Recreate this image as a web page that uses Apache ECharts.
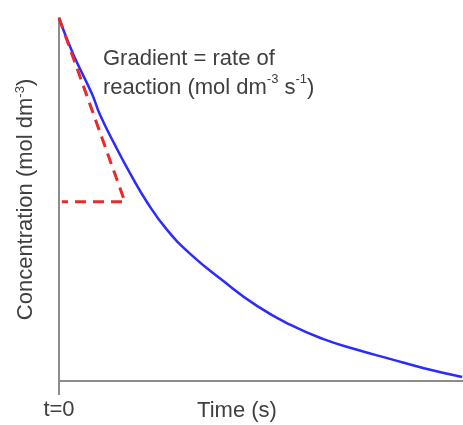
<!DOCTYPE html>
<html>
<head>
<meta charset="utf-8">
<script src="https://cdn.jsdelivr.net/npm/echarts@6/dist/echarts.min.js"></script>
<style>
  html, body { margin: 0; padding: 0; background: #fff; }
  #chart { width: 463px; height: 425px; }
</style>
</head>
<body>
<div id="chart"></div>
<script>
// concentration vs time (arbitrary units 0..10)
const timeValues = [0, 0.35, 0.82, 1.01, 1.39, 1.76, 2.2, 2.67, 3.24, 4.06, 4.9, 5.72, 6.53, 7.38, 8.19, 9.01, 9.98];
const concValues = [10, 9.01, 7.9, 7.35, 6.49, 5.72, 4.89, 4.17, 3.51, 2.76, 2.07, 1.55, 1.16, 0.86, 0.61, 0.36, 0.11];
// tangent at t=0 and the horizontal back to the axis
const tangentX = [0, 1.63, 0.07];
const tangentY = [10, 4.94, 4.94];
const xTickValues = [0];
const xTickLabels = ["t=0"];

const font = "Liberation Sans, Arial, sans-serif";
const axisColor = "#8c8c8c";
const textColor = "#404040";

const chart = echarts.init(document.getElementById("chart"));
chart.setOption({
  animation: false,
  grid: { left: 59, right: 0, top: 18, bottom: 44, outerBoundsMode: "none", containLabel: false },
  xAxis: {
    type: "value",
    min: 0,
    max: 10,
    name: "Time (s)",
    nameLocation: "middle",
    nameGap: 19,
    nameMoveOverlap: false,
    nameTextStyle: { fontFamily: font, fontSize: 22, color: textColor, padding: [0, 48, 0, 0] },
    axisLine: { lineStyle: { color: axisColor, width: 2 } },
    axisTick: { show: true, length: 14, customValues: xTickValues, lineStyle: { color: axisColor, width: 2 } },
    axisLabel: {
      customValues: xTickValues,
      formatter: (v) => xTickLabels[xTickValues.indexOf(v)] || "",
      margin: 18,
      fontFamily: font,
      fontSize: 22,
      color: textColor
    },
    splitLine: { show: false }
  },
  yAxis: {
    type: "value",
    min: 0,
    max: 10,
    name: "Concentration (mol dm{sup|-3})",
    nameLocation: "middle",
    nameGap: 22,
    nameTextStyle: {
      fontFamily: font,
      fontSize: 22,
      color: textColor,
      rich: {
        sup: { fontFamily: font, fontSize: 13, color: textColor, verticalAlign: "top", padding: [0, 0, 10, 0] }
      }
    },
    axisLine: { show: true, lineStyle: { color: axisColor, width: 2 } },
    axisTick: { show: false },
    axisLabel: { show: false },
    splitLine: { show: false }
  },
  graphic: [
    {
      type: "text",
      left: 103,
      top: 44,
      style: {
        text: "Gradient = rate of\nreaction (mol dm{sup|-3} s{sup|-1})",
        fontFamily: font,
        fontSize: 22,
        lineHeight: 29,
        fill: textColor,
        rich: {
          sup: { fontFamily: font, fontSize: 13, fill: textColor, verticalAlign: "top", padding: [0, 0, 10, 0] }
        }
      }
    }
  ],
  series: [
    {
      type: "line",
      data: timeValues.map((t, i) => [t, concValues[i]]),
      smooth: 0.5,
      symbol: "none",
      lineStyle: { color: "#2b2bff", width: 2.5 },
      z: 2
    },
    {
      type: "line",
      data: tangentX.map((t, i) => [t, tangentY[i]]),
      symbol: "none",
      lineStyle: { color: "#e82a2a", width: 3, type: [11, 7] },
      z: 3
    }
  ]
});
</script>
</body>
</html>
